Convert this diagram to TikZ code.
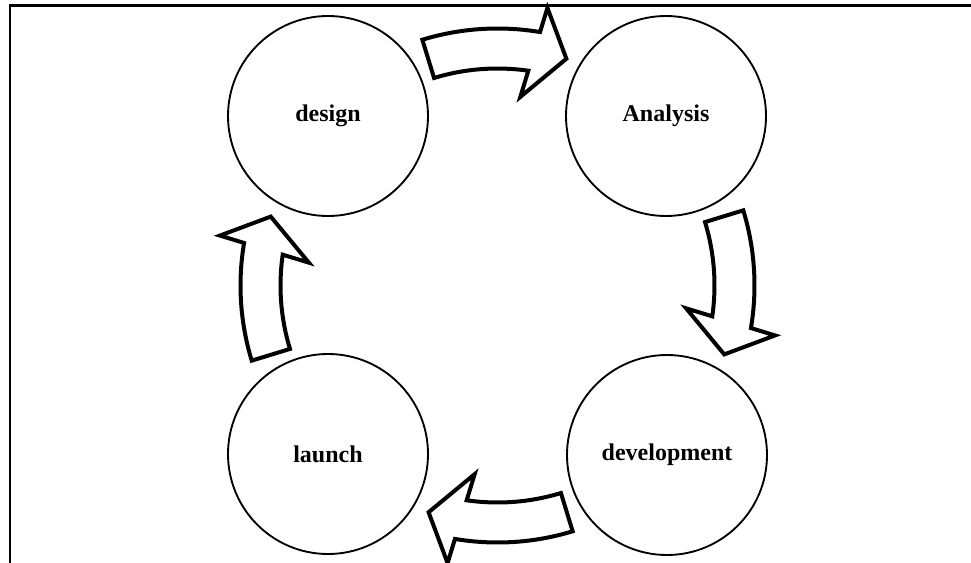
\documentclass[tikz,border=0pt]{standalone}
\usepackage{fontspec}
\setmainfont{Liberation Serif}
\usetikzlibrary{calc}
\begin{document}
\begin{tikzpicture}[x=0.75pt,y=0.75pt,
  phase/.style={circle,draw,line width=1.4pt,minimum size=150pt,inner sep=0pt,
    font=\fontsize{18}{20}\selectfont\bfseries},
  turnarrow/.style={draw,fill=white,line width=3pt,line join=miter}]
\clip (0,0) rectangle (971,562);
\draw [line width=2pt](10,-10) -- (10,556.5) -- (990,556.5);
\node [phase] (design) at (328,446) {design};
\node [phase] (analysis) at (666,446) {Analysis};
\node [phase] (development) at (667,107) {development};
\node [phase] (launch) at (328,108) {launch};
\coordinate (mid) at ($(design)!0.5!(development)$);
\foreach \turn in {0,-90,-180,-270}
  \draw [turnarrow,shift={(mid)},rotate=\turn] (107:257)
    arc [start angle=107,end angle=80.47,radius=257] -- (79.8:282)
    -- (73.1:237) -- (83.1:190) -- (81.83:217)
    arc [start angle=81.83,end angle=107,radius=217] -- cycle;
\end{tikzpicture}
\end{document}
